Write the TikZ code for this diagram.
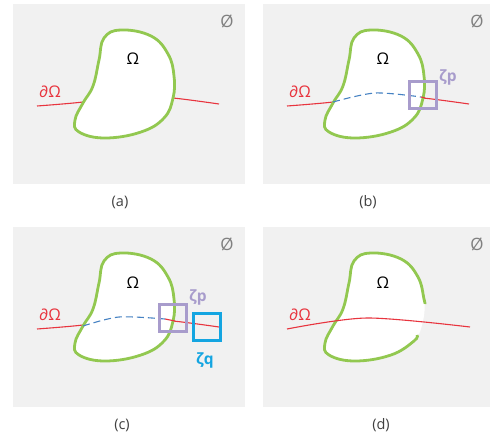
\documentclass[tikz,border=0pt]{standalone}
\usepackage{fontspec}
\setmainfont{Open Sans}
\usepackage{tikz}
\usetikzlibrary{calc}
\definecolor{panelgray}{RGB}{241,241,241}
\definecolor{blobgreen}{RGB}{146,200,80}
\definecolor{bndred}{RGB}{232,52,62}
\definecolor{dashblue}{RGB}{70,130,195}
\definecolor{boxlav}{RGB}{168,156,204}
\definecolor{boxcyan}{RGB}{20,165,225}
\definecolor{symgray}{RGB}{128,128,128}
\newcommand{\blobpts}{(108,26) (138,32) (155,50) (161,72) (160,94) (151,114) (128,128) (92,134) (66,128) (62,116) (70,99) (80,82) (86,56) (91,34)}
\newcommand{\redpts}{(24,102) (70,98) (112,91) (160,94) (206,100)}

\begin{document}
\begin{tikzpicture}[
  x=1pt, y=-1pt,
  font=\fontsize{16}{18}\selectfont,
  bg/.style    = {fill=panelgray},
  blob/.style  = {draw=blobgreen, line width=2.8pt, fill=white},
  bnd/.style   = {draw=bndred, line width=1.1pt},
  inner/.style = {draw=dashblue, line width=1.1pt, dash pattern=on 7pt off 4pt},
  zbox/.style  = {line width=2.4pt, minimum size=27pt, inner sep=0pt},
  sublbl/.style= {font=\fontsize{14.5}{16}\selectfont, text=black!75},
  emp/.style   = {text=symgray, font=\fontsize{17}{19}\selectfont},
  zlbl/.style  = {font=\bfseries\fontsize{15.5}{18}\selectfont}
]
\useasboundingbox (0,0) rectangle (490,441);

% ---------- panel backgrounds, captions, empty-set marks ----------------
\foreach \p/\x/\y/\w/\lx in {a/13/4/232/120, b/263/4/227/368, c/13/227/232/122, d/263/227/227/381}{
  \fill[bg] (\x,\y) rectangle ++(\w,180);
  \node[sublbl] (cap-\p) at (\lx,\y+198) {(\p)};
  \node[emp] (emp-\p) at (\x+214,\y+17) {Ø};
  \node[text=bndred] (dom-\p) at (\x+37,\y+88) {∂Ω};
}

% ---------- (a) domain and its boundary --------------------------------
\begin{scope}[shift={(13,4)}]
  \draw[bnd] plot[smooth] coordinates {\redpts};
  \path[blob] plot[smooth cycle, tension=0.7] coordinates {\blobpts};
  \node (om-a) at (120,55) {Ω};
\end{scope}

% ---------- (b) hidden part of the boundary, one patch ------------------
\begin{scope}[shift={(263,4)}]
  \draw[bnd] plot[smooth] coordinates {\redpts};
  \path[blob] plot[smooth cycle, tension=0.7] coordinates {\blobpts};
  \draw[inner] plot[smooth] coordinates {(70,98) (112,89) (158,93)};
  \draw[bnd] (158,93) -- (162,94);
  \node (om-b) at (120,55) {Ω};
  \node[zbox, draw=boxlav] (zp-b) at (160,91) {};
  \node[zlbl, text=boxlav] (lzp-b) at (185,73) {ζp};
\end{scope}

% ---------- (c) two patches -------------------------------------------
\begin{scope}[shift={(13,227)}]
  \draw[bnd] plot[smooth] coordinates {\redpts};
  \path[blob] plot[smooth cycle, tension=0.7] coordinates {\blobpts};
  \draw[inner] plot[smooth] coordinates {(70,99) (106,90) (152,92)};
  \draw[bnd] (152,92) -- (162,94);
  \node (om-c) at (120,56) {Ω};
  \node[zbox, draw=boxlav] (zp-c) at (160,91) {};
  \node[zbox, draw=boxcyan] (zq-c) at (194,100) {};
  \node[zlbl, text=boxlav] (lzp-c) at (185,70) {ζp};
  \node[zlbl, text=boxcyan] (lzq-c) at (192,133) {ζq};
\end{scope}

% ---------- (d) domain opened, boundary on top -------------------------
\begin{scope}[shift={(263,227)}]
  \fill[white] plot[smooth cycle, tension=0.7] coordinates {\blobpts};
  \draw[blobgreen, line width=2.8pt] plot[smooth, tension=0.7] coordinates
    {(154,108) (151,114) (128,128) (92,134) (66,128) (62,116) (70,99) (80,82)
     (86,56) (91,34) (108,26) (138,32) (155,50) (161,72) (162,77)};
  \draw[bnd] plot[smooth] coordinates {(24,102) (104,91) (207,100)};
  \node (om-d) at (120,56) {Ω};
\end{scope}

\end{tikzpicture}
\end{document}
